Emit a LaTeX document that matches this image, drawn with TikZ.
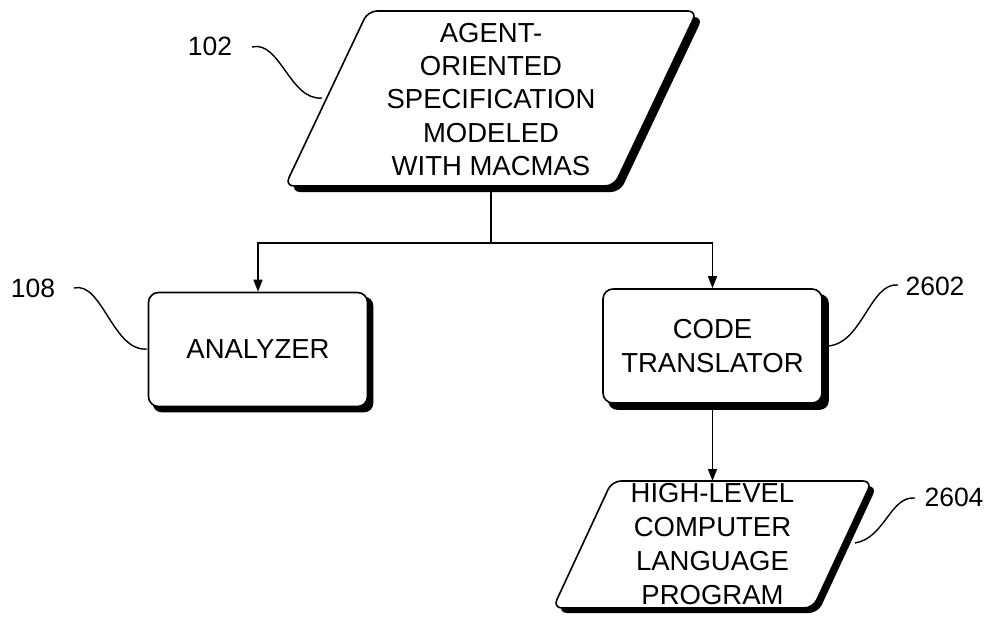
\documentclass[tikz,border=0pt]{standalone}
\usepackage{fontspec}
\setmainfont{Liberation Sans}
\usetikzlibrary{arrows.meta,backgrounds}
\begin{document}
\begin{tikzpicture}[x=1pt,y=-1pt,
  lbl/.style={font=\fontsize{27.5}{34}\selectfont, align=center, inner sep=0pt},
  toplbl/.style={font=\fontsize{27.5}{33.3}\selectfont, align=center, inner sep=0pt},
  num/.style={font=\fontsize{26.5}{32}\selectfont, inner sep=0pt},
  boxnode/.style={draw, line width=1.6pt, fill=white, rounded corners=10pt, minimum width=219pt, minimum height=114pt, lbl},
  outline/.style={draw, line width=1.6pt, fill=white, rounded corners=9pt},
  shadowfill/.style={fill=black, rounded corners=9pt},
  conn/.style={line width=1.5pt, -{Triangle[length=12pt,width=9pt]}},
  plain/.style={line width=1.5pt},
  lead/.style={line width=1.4pt}]
\useasboundingbox (0,0) rectangle (988,616);

% top parallelogram
\fill[shadowfill] (374,17) -- (703,17) -- (620,192) -- (291,192) -- cycle;
\path[outline] (368,11) -- (697,11) -- (614,186) -- (285,186) -- cycle;
\node[toplbl] (spec) at (491,99.5) {AGENT-\\ORIENTED\\SPECIFICATION\\MODELED\\WITH MACMAS};

% boxes
\node[boxnode] (ana) at (258,349.5) {ANALYZER};
\node[boxnode] (code) at (712.5,346) {CODE\\TRANSLATOR};
\begin{scope}[on background layer]
  \fill[shadowfill] ([shift={(5,5)}]ana.north west) rectangle ([shift={(5,5)}]ana.south east);
  \fill[shadowfill] ([shift={(6,6)}]code.north west) rectangle ([shift={(6,6)}]code.south east);
\end{scope}

% bottom parallelogram
\fill[shadowfill] (617,486) -- (877,486) -- (818,613) -- (558,613) -- cycle;
\path[outline] (612,481) -- (872,481) -- (813,608) -- (553,608) -- cycle;
\node[lbl] (prog) at (712.5,544) {HIGH-LEVEL\\COMPUTER\\LANGUAGE\\PROGRAM};

% connectors
\coordinate (specb) at (491,186);
\coordinate (split) at (491,243);
\coordinate (progt) at (712.5,481);
\draw[plain] (specb) -- (split);
\draw[conn] (split) -| (ana.north);
\draw[conn] (split) -| (code.north);
\draw[conn] (code.south) -- (progt);

% reference labels
\node[num] (n102) at (210,46) {102};
\node[num] (n108) at (33,288) {108};
\node[num] (n2602) at (935,286) {2602};
\node[num] (n2604) at (954,497) {2604};
\coordinate (s102) at (252,47);   \coordinate (e102) at (322,98);
\coordinate (s108) at (74,288);   \coordinate (e108) at (147,349);
\coordinate (s2602) at (898,285); \coordinate (e2602) at (827,346);
\coordinate (s2604) at (915,498); \coordinate (e2604) at (855,543);
\draw[lead] (s102) .. controls (280,40) and (290,101) .. (e102);
\draw[lead] (s108) .. controls (102,281) and (113,352) .. (e108);
\draw[lead] (s2602) .. controls (870,282) and (862,345) .. (e2602);
\draw[lead] (s2604) .. controls (890,496) and (885,538) .. (e2604);
\end{tikzpicture}
\end{document}
